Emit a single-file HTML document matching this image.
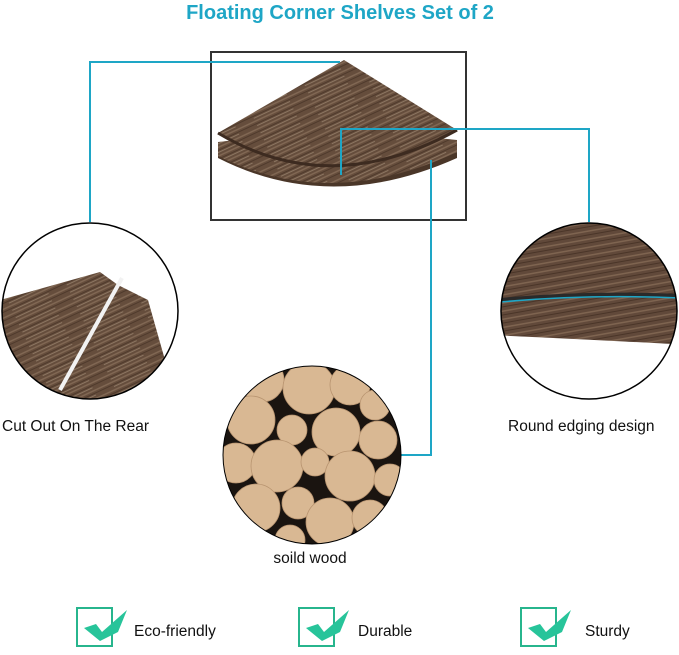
<!DOCTYPE html>
<html><head><meta charset="utf-8"><style>
html,body{margin:0;padding:0;background:#fff;}
body{width:679px;height:650px;overflow:hidden;font-family:"Liberation Sans",Arial,sans-serif;}
</style></head><body>
<svg width="679" height="650" viewBox="0 0 679 650" xmlns="http://www.w3.org/2000/svg">
<defs>
<pattern id="wood" width="60" height="8" patternUnits="userSpaceOnUse" patternTransform="rotate(-25)">
<rect width="60" height="8" fill="#654d3c"/>
<rect y="1" width="60" height="1.5" fill="#806753"/>
<rect y="4" width="60" height="1" fill="#4f3a2c"/>
<rect y="6" width="40" height="1" fill="#8c7662"/>
</pattern>
<pattern id="wood2" width="60" height="8" patternUnits="userSpaceOnUse" patternTransform="rotate(-10)">
<rect width="60" height="8" fill="#61493a"/>
<rect y="1" width="60" height="1.5" fill="#7e6450"/>
<rect y="5" width="60" height="1" fill="#4a3528"/>
</pattern>
<clipPath id="cl"><circle cx="90" cy="311" r="88"/></clipPath>
<clipPath id="cr"><circle cx="589" cy="311" r="88"/></clipPath>
<clipPath id="cm"><circle cx="312" cy="455" r="89"/></clipPath>
</defs>
<text x="340" y="19" text-anchor="middle" font-size="20" font-weight="bold" fill="#1ea6c6">Floating Corner Shelves Set of 2</text>
<rect x="211" y="52" width="255" height="168" fill="none" stroke="#333" stroke-width="2"/>
<path d="M218,150 Q330,205 457,152 L457,158 Q330,215 218,158 Z" fill="#4a3628"/>
<path d="M218,142 L340,128 L457,140 L457,152 Q330,212 218,156 Z" fill="url(#wood)"/>
<path d="M218,133 L344,60 L457,130 Q330,200 218,133 Z" fill="url(#wood)"/>
<path d="M218,133 Q330,200 457,130" fill="none" stroke="#3d2b20" stroke-width="3"/>
<g stroke="#1ea6c6" stroke-width="2" fill="none">
<polyline points="90,222 90,62 340,62"/>
<polyline points="341,175 341,129 589,129 589,222"/>
<polyline points="431,160 431,455 401,455"/>
</g>
<g clip-path="url(#cl)">
<path d="M0,300 L100,272 L118,285 L148,300 L165,360 L170,420 L0,420 Z" fill="url(#wood)"/>
<line x1="122" y1="278" x2="60" y2="390" stroke="#f2f2f2" stroke-width="4"/>
</g>
<circle cx="90" cy="311" r="88" fill="none" stroke="#000" stroke-width="1.5"/>
<g clip-path="url(#cr)">
<path d="M490,220 L690,220 L690,345 Q600,340 490,335 Z" fill="url(#wood2)"/>
<path d="M500,300 Q590,292 680,296" stroke="#2a2a2a" stroke-width="4" fill="none"/>
<path d="M500,302 Q590,294 680,298" stroke="#1ea6c6" stroke-width="1.5" fill="none"/>
</g>
<circle cx="589" cy="311" r="88" fill="none" stroke="#000" stroke-width="1.5"/>
<g clip-path="url(#cm)">
<rect x="220" y="360" width="190" height="190" fill="#1a1410"/>
<g fill="#d9b893" stroke="#b89470" stroke-width="0.8">
<circle cx="262" cy="380" r="22"/><circle cx="309" cy="388" r="26"/><circle cx="350" cy="385" r="20"/>
<circle cx="375" cy="405" r="15"/><circle cx="251" cy="420" r="24"/><circle cx="292" cy="430" r="15"/>
<circle cx="336" cy="432" r="24"/><circle cx="378" cy="440" r="19"/><circle cx="236" cy="463" r="20"/>
<circle cx="277" cy="466" r="26"/><circle cx="315" cy="462" r="14"/><circle cx="350" cy="476" r="25"/>
<circle cx="390" cy="480" r="16"/><circle cx="256" cy="508" r="24"/><circle cx="298" cy="503" r="16"/>
<circle cx="330" cy="522" r="24"/><circle cx="370" cy="518" r="18"/><circle cx="290" cy="540" r="15"/>
</g>
</g>
<circle cx="312" cy="455" r="89" fill="none" stroke="#000" stroke-width="1"/>
<g font-size="15.5" fill="#111">
<text x="2" y="431">Cut Out On The Rear</text>
<text x="508" y="431">Round edging design</text>
<text x="310" y="563" text-anchor="middle">soild wood</text>
<text x="134" y="636">Eco-friendly</text>
<text x="358" y="636">Durable</text>
<text x="585" y="636">Sturdy</text>
</g>
<g fill="none" stroke="#27b58d" stroke-width="2">
<rect x="77" y="608" width="35" height="38"/>
<rect x="299" y="608" width="35" height="38"/>
<rect x="521" y="608" width="35" height="38"/>
</g>
<g fill="#27c49a">
<path d="M84,628 L96,624 L102,632 L127,610 L118,632 L100,641 Z"/>
<path d="M306,628 L318,624 L324,632 L349,610 L340,632 L322,641 Z"/>
<path d="M528,628 L540,624 L546,632 L571,610 L562,632 L544,641 Z"/>
</g>
</svg>
</body></html>
